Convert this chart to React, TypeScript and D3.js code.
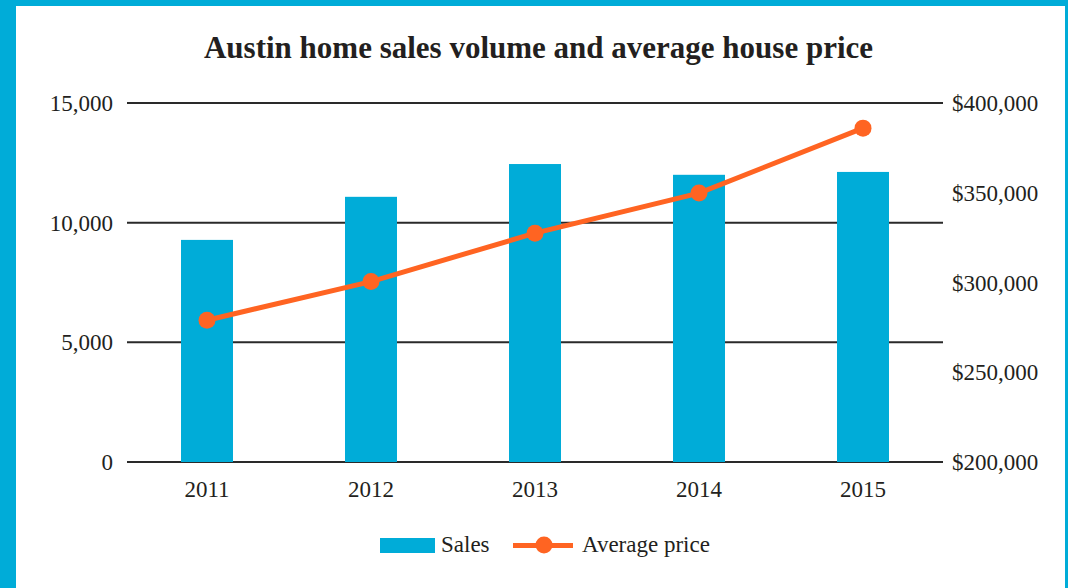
import React from "react";
import * as d3 from "d3";

const years = ["2011", "2012", "2013", "2014", "2015"];
const sales = [9280, 11080, 12450, 12000, 12120];
const avgPrice = [279000, 300500, 327500, 349800, 386000];
const leftTicks = [0, 5000, 10000, 15000];
const rightTicks = [200000, 250000, 300000, 350000, 400000];

const W = 1068;
const H = 588;
const BLUE = "#00acd8";
const ORANGE = "#ff6422";
const TEXT = "#231f20";
const FONT = "'Liberation Serif', 'DejaVu Serif', serif";
const FS = 23;

export default function App() {
  const x = d3.scaleBand<string>().domain(years).range([125, 945]).padding(0);
  const yL = d3.scaleLinear().domain([0, 15000]).range([462, 103]);
  const yR = d3.scaleLinear().domain([200000, 400000]).range([462, 103]);
  const barW = x.bandwidth() * 0.317;
  const cx = (d: string) => (x(d) as number) + x.bandwidth() / 2;
  const fmtL = d3.format(",");
  const fmtR = (v: number) => "$" + d3.format(",")(v);
  const line = d3
    .line<number>()
    .x((_, i) => cx(years[i]))
    .y((v) => yR(v));

  return (
    <svg
      width={W}
      height={H}
      style={{ position: "absolute", left: 0, top: 0, display: "block" }}
      fontFamily={FONT}
    >
      <rect x={0} y={0} width={W} height={H} fill={BLUE} />
      <rect x={16} y={6} width={1065 - 16} height={H - 6} fill="#ffffff" />
      <text
        x={538.5}
        y={58}
        textAnchor="middle"
        fontWeight="bold"
        fontSize={31}
        fill={TEXT}
      >
        Austin home sales volume and average house price
      </text>

      {leftTicks.map((t) => (
        <g key={"l" + t}>
          <line x1={127} x2={943} y1={yL(t)} y2={yL(t)} stroke="#2a2a2a" strokeWidth={2} />
          <text x={113} y={yL(t)} dy="0.35em" textAnchor="end" fontSize={FS} fill={TEXT}>
            {fmtL(t)}
          </text>
        </g>
      ))}
      {rightTicks.map((t) => (
        <text key={"r" + t} x={952} y={yR(t)} dy="0.35em" textAnchor="start" fontSize={FS} fill={TEXT}>
          {fmtR(t)}
        </text>
      ))}

      {years.map((yr, i) => (
        <rect
          key={"b" + yr}
          x={cx(yr) - barW / 2}
          y={yL(sales[i])}
          width={barW}
          height={yL(0) - yL(sales[i])}
          fill={BLUE}
        />
      ))}

      <path d={line(avgPrice) || ""} fill="none" stroke={ORANGE} strokeWidth={5} />
      {years.map((yr, i) => (
        <circle key={"c" + yr} cx={cx(yr)} cy={yR(avgPrice[i])} r={8.5} fill={ORANGE} />
      ))}

      {years.map((yr) => (
        <text key={"t" + yr} x={cx(yr)} y={497} textAnchor="middle" fontSize={FS} fill={TEXT}>
          {yr}
        </text>
      ))}

      <rect x={380} y={538} width={55} height={15} fill={BLUE} />
      <text x={441} y={552} fontSize={FS} fill={TEXT}>
        Sales
      </text>
      <line x1={513} x2={573} y1={545.5} y2={545.5} stroke={ORANGE} strokeWidth={5} />
      <circle cx={544} cy={545} r={8.5} fill={ORANGE} />
      <text x={582} y={552} fontSize={FS} fill={TEXT}>
        Average price
      </text>
    </svg>
  );
}
